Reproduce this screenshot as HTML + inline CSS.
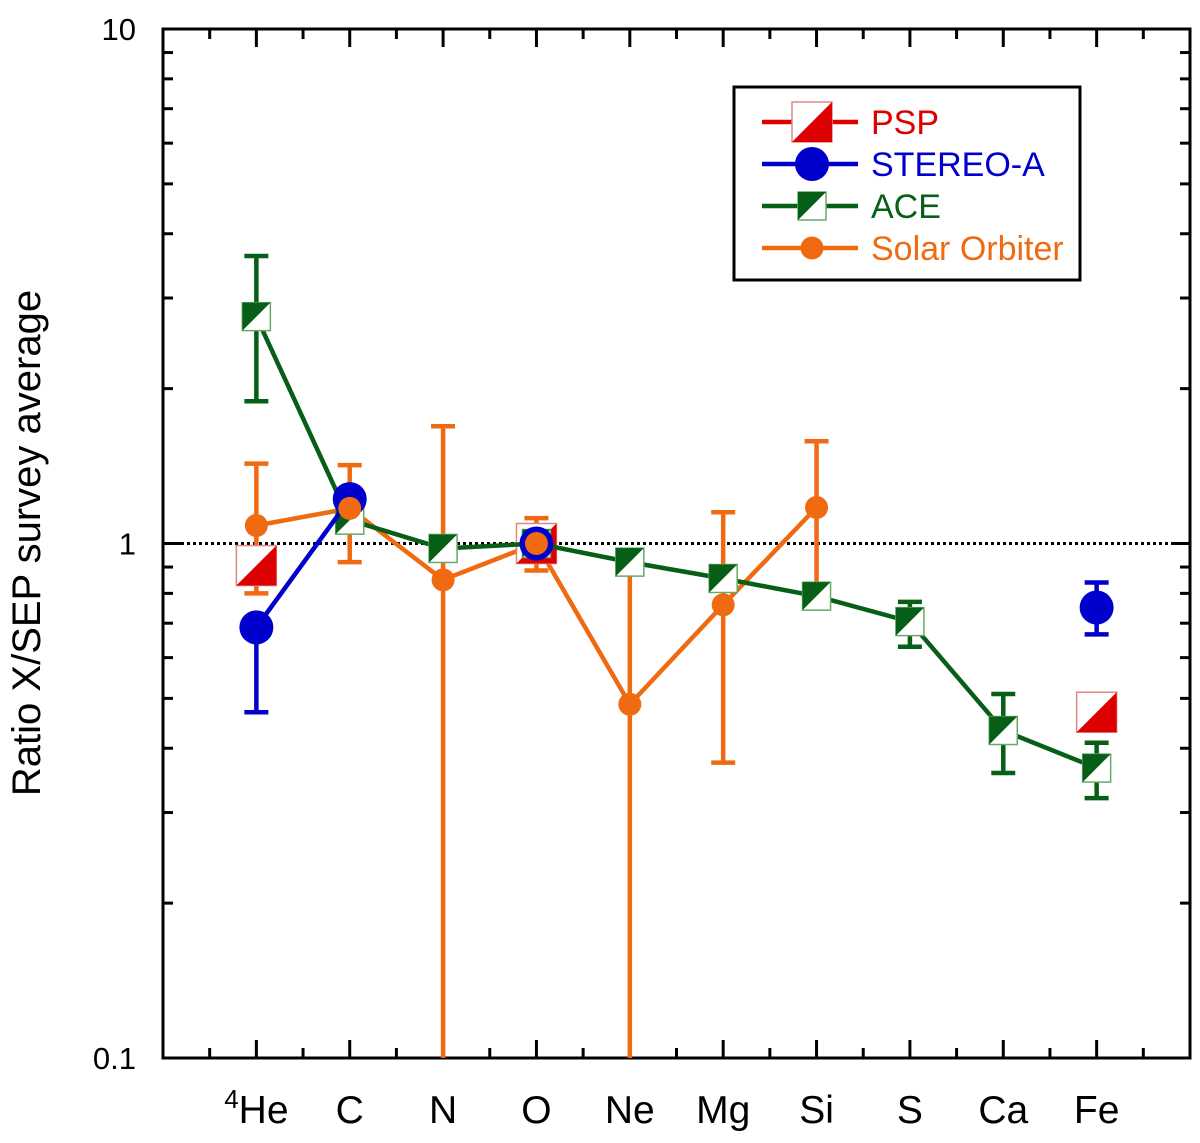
<!DOCTYPE html>
<html><head><meta charset="utf-8"><style>
html,body{margin:0;padding:0;background:#fff;overflow:hidden;width:1200px;height:1143px;}
svg{display:block;font-family:"Liberation Sans",Arial,sans-serif;}
</style></head><body>
<svg id="chart" width="1200" height="1143" viewBox="0 0 1200 1143">
<defs><clipPath id="plotclip"><rect x="163" y="29" width="1027" height="1029"/></clipPath></defs>
<g id="layer"></g>
</svg>
<script>
const categories = ["He","C","N","O","Ne","Mg","Si","S","Ca","Fe"];
const aceVals = [2.76,1.11,0.978,1.0,0.92,0.855,0.79,0.705,0.433,0.366];
const aceHi   = [3.62,null,null,null,null,null,null,0.77,0.51,0.41];
const aceLo   = [1.89,null,null,null,null,null,null,0.63,0.358,0.32];
const stereoIdx  = [0,1,3,9];
const stereoVals = [0.687,1.22,1.0,0.751];
const stereoHi   = [null,null,null,0.84];
const stereoLo   = [0.47,null,null,0.666];
const pspIdx  = [0,3,9];
const pspVals = [0.906,1.0,0.47];
const soloIdx  = [0,1,2,3,4,5,6];
const soloVals = [1.084,1.17,0.85,1.0,0.487,0.76,1.175];
const soloHi   = [1.43,1.42,1.69,1.12,0.9,1.15,1.58];
const soloLo   = [0.8,0.92,0.05,0.886,0.05,0.375,0.8];
const yTicks = [0.1,1,10];
const yTickLabels = ["0.1","1","10"];

const NS="http://www.w3.org/2000/svg";
const L=163,R=1190,T=29,B=1058;
const xs=i=>L+(R-L)*(i+1)/11;
const ys=v=>B-(B-T)*(Math.log10(v)+1)/2;
const layer=document.getElementById('layer');
function mk(tag,attrs,parent){const e=document.createElementNS(NS,tag);for(const k in attrs)e.setAttribute(k,attrs[k]);(parent||layer).appendChild(e);return e;}

const frame=mk('rect',{x:L,y:T,width:R-L,height:B-T,fill:'none',stroke:'#000','stroke-width':3});


for(let d=-1;d<=0;d++){for(let m=1;m<=9;m++){const v=m*Math.pow(10,d);const y=ys(v);const len=m===1?18:10;
 mk('line',{x1:L,x2:L+len,y1:y,y2:y,stroke:'#000','stroke-width':3});
 mk('line',{x1:R,x2:R-len,y1:y,y2:y,stroke:'#000','stroke-width':3});}}
for(let i=-0.5;i<10.5;i+=0.5){const x=xs(i);const major=Number.isInteger(i);const len=major?18:10;
 mk('line',{x1:x,x2:x,y1:B,y2:B-len,stroke:'#000','stroke-width':3});
 mk('line',{x1:x,x2:x,y1:T,y2:T+len,stroke:'#000','stroke-width':3});}
yTicks.forEach((v,i)=>{const t=mk('text',{x:136,y:ys(v)+11,'text-anchor':'end','font-size':31});t.textContent=yTickLabels[i];
 
 });
categories.forEach((c,i)=>{const t=mk('text',{x:xs(i),y:1123,'text-anchor':'middle','font-size':39});
 if(c==="He"){const s=document.createElementNS(NS,'tspan');s.setAttribute('font-size',26);s.setAttribute('dy',-15);s.textContent='4';t.appendChild(s);
  const s2=document.createElementNS(NS,'tspan');s2.setAttribute('dy',15);s2.textContent='He';t.appendChild(s2);}
 else t.textContent=c;
 
 });
const yt=mk('text',{x:0,y:0,transform:'translate(40,543) rotate(-90)','text-anchor':'middle','font-size':40});
yt.textContent='Ratio X/SEP survey average';


const ref=mk('line',{x1:L,x2:R,y1:ys(1),y2:ys(1),stroke:'#000','stroke-width':3,'stroke-dasharray':'3,3'});



const plot=mk('g',{'clip-path':'url(#plotclip)'});
const RED='#dd0000',BLUE='#0000cc',GREEN='#075f17',ORANGE='#ef6a10';
function errbar(g,x,v,hi,lo,col,cap){
 if(hi!=null){mk('line',{x1:x,x2:x,y1:ys(v),y2:ys(hi),stroke:col,'stroke-width':4.5},g);mk('line',{x1:x-cap,x2:x+cap,y1:ys(hi),y2:ys(hi),stroke:col,'stroke-width':4.5},g);}
 if(lo!=null){mk('line',{x1:x,x2:x,y1:ys(v),y2:ys(lo),stroke:col,'stroke-width':4.5},g);mk('line',{x1:x-cap,x2:x+cap,y1:ys(lo),y2:ys(lo),stroke:col,'stroke-width':4.5},g);}
}
function square(g,cx,cy,s,col,lowerRight){
 const h=s/2;
 mk('rect',{x:cx-h,y:cy-h,width:s,height:s,fill:'#fff',stroke:lowerRight?'#d88':'#6a6','stroke-width':1.5},g);
 const pts=lowerRight?`${cx+h},${cy-h} ${cx+h},${cy+h} ${cx-h},${cy+h}`:`${cx-h},${cy-h} ${cx+h},${cy-h} ${cx-h},${cy+h}`;
 mk('polygon',{points:pts,fill:col},g);
}
function linePts(idx,vals){return idx.map((i,k)=>xs(i)+','+ys(vals[k])).join(' ');}

const soloG=mk('g',{},plot);


soloIdx.forEach((i,k)=>errbar(soloG,xs(i),soloVals[k],soloHi[k],soloLo[k],ORANGE,12));
mk('polyline',{points:linePts(soloIdx,soloVals),fill:'none',stroke:ORANGE,'stroke-width':4.5},soloG);
const pspG=mk('g',{},plot);


pspIdx.forEach((i,k)=>{const sq=mk('g',{},pspG);square(sq,xs(i),ys(pspVals[k]),40,RED,true);
 
 });
const aceIdx=categories.map((c,i)=>i);
const aceG=mk('g',{},plot);


aceIdx.forEach(i=>errbar(aceG,xs(i),aceVals[i],aceHi[i],aceLo[i],GREEN,12));
mk('polyline',{points:linePts(aceIdx,aceVals),fill:'none',stroke:GREEN,'stroke-width':4.5},aceG);
aceIdx.forEach(i=>{const sq=mk('g',{},aceG);square(sq,xs(i),ys(aceVals[i]),28,GREEN,false);
 
 });
const stG=mk('g',{},plot);


stereoIdx.forEach((i,k)=>errbar(stG,xs(i),stereoVals[k],stereoHi[k],stereoLo[k],BLUE,12));
mk('polyline',{points:linePts(stereoIdx.slice(0,2),stereoVals.slice(0,2)),fill:'none',stroke:BLUE,'stroke-width':4.5},stG);
stereoIdx.forEach((i,k)=>{const c=mk('circle',{cx:xs(i),cy:ys(stereoVals[k]),r:17,fill:BLUE},stG);
 
 });
soloIdx.forEach((i,k)=>{const c=mk('circle',{cx:xs(i),cy:ys(soloVals[k]),r:11.5,fill:ORANGE},plot);
 
 });

const lg=mk('g',{});


mk('rect',{x:734,y:87,width:346,height:193,fill:'#fff',stroke:'#000','stroke-width':3},lg);
const legNames=['PSP','STEREO-A','ACE','Solar Orbiter'];
const legCols=[RED,BLUE,GREEN,ORANGE];
legNames.forEach((n,k)=>{const y=122+k*42;const e=mk('g',{},lg);
 
 
 mk('line',{x1:762,x2:858,y1:y,y2:y,stroke:legCols[k],'stroke-width':4.5},e);
 if(k===0)square(e,812,y,40,RED,true);
 if(k===1)mk('circle',{cx:812,cy:y,r:17,fill:BLUE},e);
 if(k===2)square(e,812,y,28,GREEN,false);
 if(k===3)mk('circle',{cx:812,cy:y,r:11.5,fill:ORANGE},e);
 const t=mk('text',{x:871,y:y+12,'font-size':34,fill:legCols[k]},e);t.textContent=n;});
</script>
</body></html>
